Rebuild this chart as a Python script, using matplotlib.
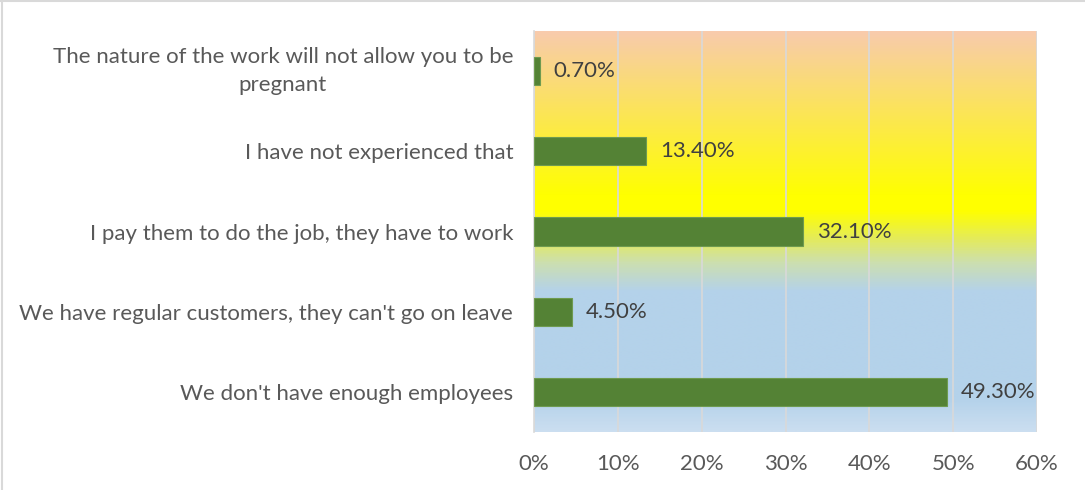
import numpy as np
import matplotlib
matplotlib.use("Agg")
import matplotlib.pyplot as plt
from matplotlib.colors import LinearSegmentedColormap
from matplotlib.lines import Line2D

plt.rcParams['font.family'] = ['Lato', 'DejaVu Sans']

# answers, bottom to top
categories = [
    "We don't have enough employees",
    "We have regular customers, they can't go on leave",
    "I pay them to do the job, they have to work",
    "I have not experienced that",
    "The nature of the work will not allow you to be\npregnant",
]
shares = [49.3, 4.5, 32.1, 13.4, 0.7]
xticks = [0, 10, 20, 30, 40, 50, 60]

fig = plt.figure(figsize=(10.85, 4.9), dpi=100)
ax = fig.add_axes([534 / 1085, 1 - 432 / 490, 503 / 1085, 401 / 490])

# vertical background gradient (top = 0, bottom = 1)
stops = [
    (0.00, '#F8CBAD'),
    (0.41, '#FFFF00'),
    (0.45, '#FFFF00'),
    (0.52, '#E4EB5C'),
    (0.58, '#CCDFB0'),
    (0.65, '#B4D2EA'),
    (0.92, '#B4D2EA'),
    (1.00, '#CBDEF0'),
]
cmap = LinearSegmentedColormap.from_list('bg', stops)
grad = np.linspace(0, 1, 400).reshape(-1, 1)
ax.imshow(grad, cmap=cmap, aspect='auto', extent=[0, 60, -0.5, 4.5],
          origin='upper', zorder=0, interpolation='bilinear')

y = np.arange(len(categories))
bars = ax.barh(y, shares, height=0.35, color='#548235', edgecolor='#6E9A50',
               linewidth=0.8, zorder=3)
for b, v in zip(bars, shares):
    ax.annotate(f"{v:.2f}%", (b.get_width(), b.get_y() + b.get_height() / 2),
                xytext=(10, 0), textcoords='offset points', va='center',
                ha='left', fontsize=16, color='#404040', zorder=4)

ax.set_xlim(0, 60)
ax.set_ylim(-0.5, 4.5)
ax.set_xticks(xticks)
ax.set_xticklabels([f"{t}%" for t in xticks])
ax.set_yticks(y)
ax.set_yticklabels(categories, multialignment='center', linespacing=1.45)
ax.tick_params(axis='x', length=0, pad=16, labelsize=16, labelcolor='#595959')
ax.tick_params(axis='y', length=0, pad=15, labelsize=16, labelcolor='#595959')
for lab in ax.get_yticklabels():
    if '\n' in lab.get_text():
        lab.set_va('center')
ax.grid(axis='x', color='#D9D9D9', linewidth=1.2)
for s in ['top', 'right', 'bottom']:
    ax.spines[s].set_visible(False)
ax.spines['left'].set_color('#D9D9D9')
ax.spines['left'].set_linewidth(1.2)
for line in ax.get_xgridlines():
    line.set_zorder(1)

# light frame on the chart area
fig.add_artist(Line2D([0.0015, 0.0015], [0, 0.998], transform=fig.transFigure,
                      color='#D9D9D9', linewidth=1.5))
fig.add_artist(Line2D([0, 1], [0.998, 0.998], transform=fig.transFigure,
                      color='#D9D9D9', linewidth=1.5))

fig.savefig('out.png', dpi=100)
